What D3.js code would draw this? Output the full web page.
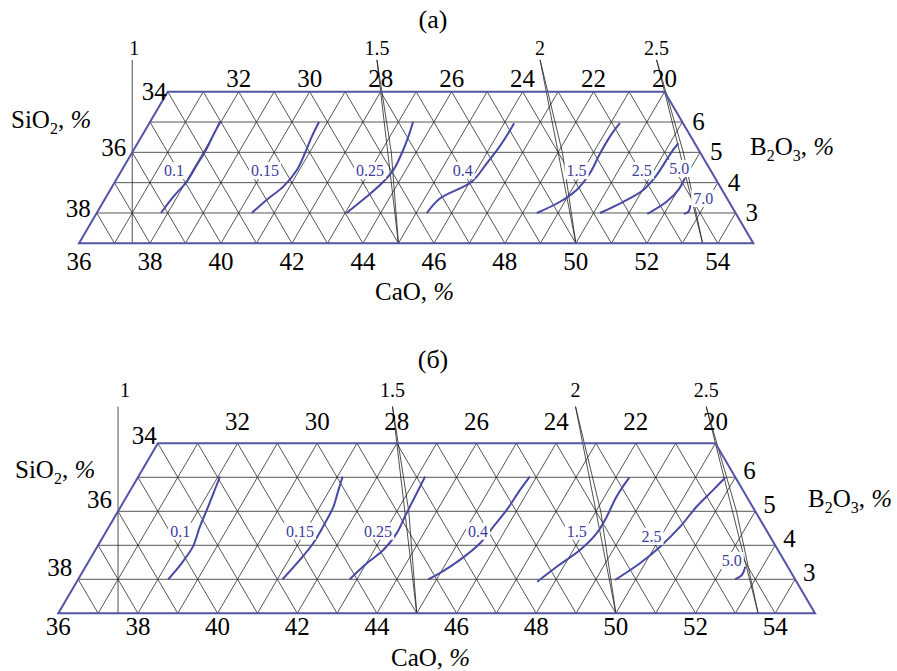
<!DOCTYPE html>
<html>
<head>
<meta charset="utf-8">
<script src="https://cdn.jsdelivr.net/npm/d3@7"></script>
<style>
  body { margin: 0; background: #fff; }
  svg { display: block; }
  text { font-family: "Liberation Serif", "DejaVu Serif", serif; }
  .grid { stroke: #2b2b2b; stroke-width: 0.8; fill: none; }
  .edge { stroke: #5454a6; stroke-width: 2; fill: none; }
  .curve { stroke: #4848a6; stroke-width: 2; fill: none; }
  .basic { stroke: #222; stroke-width: 0.8; fill: none; }
</style>
</head>
<body>
<script>
// CaO + SiO2 + B2O3 = 77 % (the rest of the slag is constant)
var TOTAL = 77;

// tick values
var caoTicks = [36, 38, 40, 42, 44, 46, 48, 50, 52, 54];
var sio2TopTicks = [32, 30, 28, 26, 24, 22, 20];
var sio2LeftTicks = [38, 36, 34];
var b2o3Ticks = [6, 5, 4, 3];

// CaO/SiO2 lines and the CaO shift of their second trace (at B2O3 = 5)
var basicity = [1, 1.5, 2, 2.5];
var basicityBend = [0, 0.1, 0.12, 0.1];

// iso-lines, panel (a); points are [CaO, B2O3]
var levelsA = ["0.1", "0.15", "0.25", "0.4", "1.5", "2.5", "5.0", "7.0"];
var curvesA = [
  [[37.81, 3.0], [37.89, 3.54], [38.02, 4.03], [38.03, 4.58], [38.04, 5.02], [38.0, 5.57], [37.97, 6.01]],
  [[40.37, 3.0], [40.57, 3.43], [40.82, 3.87], [40.93, 4.42], [40.88, 4.97], [40.8, 5.52], [40.76, 6.01]],
  [[43.04, 3.0], [43.34, 3.54], [43.56, 4.03], [43.65, 4.42], [43.61, 4.97], [43.52, 5.52], [43.41, 6.01]],
  [[45.3, 3.0], [45.43, 3.48], [46.05, 4.03], [46.17, 4.64], [46.25, 5.13], [46.28, 5.63], [46.28, 5.96]],
  [[48.4, 3.0], [48.87, 3.37], [49.14, 3.76], [49.24, 4.31], [49.2, 4.97], [49.2, 5.52], [49.26, 5.96]],
  [[50.18, 3.0], [50.65, 3.37], [51.02, 3.76], [51.15, 4.25], [51.18, 4.75], [51.2, 5.08], [51.24, 5.3]],
  [[51.53, 2.97], [51.87, 3.37], [52.01, 3.76], [52.0, 4.14]],
  [[52.56, 2.97], [52.65, 3.04], [52.6, 3.26]]
];
var labelAtA = [[37.49, 4.38], [40.05, 4.38], [43.01, 4.38], [45.62, 4.38], [48.83, 4.38], [50.67, 4.38], [51.69, 4.45], [52.86, 3.46]];

// iso-lines, panel (б)
var levelsB = ["0.1", "0.15", "0.25", "0.4", "1.5", "2.5", "5.0"];
var curvesB = [
  [[38.26, 3.0], [38.36, 3.47], [38.4, 3.96], [38.28, 4.55], [38.21, 5.04], [38.13, 5.53], [38.05, 6.02]],
  [[41.13, 3.0], [41.28, 3.57], [41.37, 4.06], [41.37, 4.65], [41.34, 5.14], [41.22, 5.63], [41.13, 6.02]],
  [[42.82, 3.0], [43.01, 3.47], [43.23, 3.86], [43.32, 4.35], [43.28, 4.84], [43.24, 5.43], [43.2, 6.02]],
  [[44.79, 3.0], [44.99, 3.18], [45.3, 3.57], [45.56, 4.06], [45.65, 4.55], [45.74, 5.04], [45.78, 5.63], [45.83, 6.02]],
  [[47.56, 2.93], [47.83, 3.37], [48.17, 3.86], [48.34, 4.35], [48.35, 4.84], [48.3, 5.43], [48.34, 5.99]],
  [[49.49, 2.98], [49.87, 3.47], [50.13, 3.96], [50.34, 4.55], [50.46, 5.14], [50.63, 5.63], [50.75, 5.99]],
  [[52.49, 3.0], [52.6, 3.13], [52.56, 3.37]]
];
var labelAtB = [[37.86, 4.4], [40.87, 4.4], [42.83, 4.4], [45.34, 4.4], [47.82, 4.4], [49.77, 4.25], [52.14, 3.54]];

var svg = d3.select("body").append("svg")
  .attr("width", 897)
  .attr("height", 671);

function drawPanel(p) {
  var g = svg.append("g");

  // CaO along the bottom edge, B2O3 upward; every B2O3 step shifts half a CaO step right
  var xC = d3.scaleLinear().domain([36, 55]).range([p.x0, p.x1]);
  var yB = d3.scaleLinear().domain([2, 7]).range([p.yBottom, p.yTop]);
  var px = function(c, b) { return xC(c + (b - 2) / 2); };
  var py = function(b) { return yB(b); };

  var seg = function(c1, b1, c2, b2, cls) {
    g.append("line").attr("class", cls)
      .attr("x1", px(c1, b1)).attr("y1", py(b1))
      .attr("x2", px(c2, b2)).attr("y2", py(b2));
  };

  // grid: constant B2O3, constant CaO, constant SiO2
  d3.range(3, 7).forEach(function(b) { seg(36, b, TOTAL - 20 - b, b, "grid"); });
  d3.range(37, 55).forEach(function(c) {
    var bTop = Math.min(7, TOTAL - 20 - c);
    seg(c, 2, c, bTop, "grid");
  });
  d3.range(21, 39).forEach(function(s) {
    var bTop = Math.min(7, TOTAL - 36 - s);
    seg(TOTAL - s - 2, 2, TOTAL - s - bTop, bTop, "grid");
  });

  // basicity lines CaO/SiO2 = r
  var line = d3.line().x(function(d) { return px(d[0], d[1]); }).y(function(d) { return py(d[1]); });
  var cAt = function(r, b) { return (TOTAL - b) * r / (1 + r); };
  basicity.forEach(function(r, i) {
    var top = [cAt(r, p.bLab), p.bLab], bottom = [cAt(r, 2), 2];
    g.append("path").attr("class", "basic").attr("d", line([top, bottom]));
    if (basicityBend[i] > 0) {
      g.append("path").attr("class", "basic")
        .attr("d", line([top, [cAt(r, 5) + basicityBend[i], 5], bottom]));
    }
    g.append("text")
      .attr("x", px(top[0], top[1]) + (i === 0 ? p.oneDx : 0))
      .attr("y", py(top[1]) + p.basicDy)
      .attr("text-anchor", "middle")
      .attr("font-size", 20)
      .text(r);
  });

  // outline
  var outline = [[36, 2], [36, 7], [TOTAL - 27, 7], [TOTAL - 22, 2]];
  g.append("path").attr("class", "edge").attr("d", line(outline) + "Z");

  // iso-lines
  var curve = d3.line().curve(d3.curveCatmullRom)
    .x(function(d) { return px(d[0], d[1]); }).y(function(d) { return py(d[1]); });
  p.curves.forEach(function(pts) {
    g.append("path").attr("class", "curve").attr("d", curve(pts));
  });
  p.levels.forEach(function(lv, i) {
    var at = p.labels[i];
    var t = g.append("text")
      .attr("x", px(at[0], at[1])).attr("y", py(at[1]) + 5)
      .attr("text-anchor", "middle")
      .attr("font-size", 16)
      .attr("fill", "#3d3d9e")
      .text(lv);
    var bb = t.node().getBBox();
    g.insert("rect", function() { return t.node(); })
      .attr("x", bb.x - 2).attr("y", bb.y).attr("width", bb.width + 4).attr("height", bb.height)
      .attr("fill", "#fff");
  });

  // tick labels
  caoTicks.forEach(function(c) {
    g.append("text").attr("x", px(c, 2)).attr("y", py(2) + p.bottomDy)
      .attr("text-anchor", "middle").attr("font-size", 25).text(c);
  });
  sio2TopTicks.forEach(function(s) {
    g.append("text").attr("x", px(TOTAL - 7 - s, 7)).attr("y", py(7) + p.topDy)
      .attr("text-anchor", "middle").attr("font-size", 25).text(s);
  });
  sio2LeftTicks.forEach(function(s) {
    var b = TOTAL - 36 - s;
    var corner = b === 7;
    g.append("text").attr("x", px(36, b) - (corner ? 1 : 6)).attr("y", py(b) + p.leftDy + (corner ? 4 : 0))
      .attr("text-anchor", "end").attr("font-size", 25).text(s);
  });
  b2o3Ticks.forEach(function(b) {
    g.append("text").attr("x", px(TOTAL - 20 - b, b) + p.rightDx).attr("y", py(b) + p.rightDy)
      .attr("font-size", 25).text(b);
  });

  // axis titles
  var title = function(x, y, parts) {
    var t = g.append("text").attr("x", x).attr("y", y).attr("font-size", 25);
    parts.forEach(function(q) {
      var s = t.append("tspan").text(q[0]);
      if (q[1] === "sub") s.attr("font-size", 16).attr("dy", 6);
      if (q[1] === "up") s.attr("dy", -6);
      if (q[2]) s.attr("font-style", "italic");
    });
  };
  title(p.sioX, p.sioY, [["SiO"], ["2", "sub"], [", ", "up"], ["%", "", 1]]);
  title(p.boX, p.boY, [["B"], ["2", "sub"], ["O", "up"], ["3", "sub"], [", ", "up"], ["%", "", 1]]);
  title(p.caoX, p.caoY, [["CaO, "], ["%", "", 1]]);

  g.append("text").attr("x", 433).attr("y", p.nameY)
    .attr("text-anchor", "middle").attr("font-size", 26).text(p.name);
}

drawPanel({
  name: "(а)", nameY: 28,
  x0: 79, x1: 753.3, yBottom: 243.3, yTop: 91.7,
  bLab: 8.05, basicDy: -5, oneDx: 2,
  bottomDy: 27, topDy: -5, leftDy: 4, rightDx: 10, rightDy: 8,
  sioX: 11, sioY: 128, boX: 750, boY: 155, caoX: 375, caoY: 300,
  levels: levelsA, curves: curvesA, labels: labelAtA
});

drawPanel({
  name: "(б)", nameY: 368,
  x0: 58.3, x1: 815, yBottom: 613.3, yTop: 443.3,
  bLab: 8.08, basicDy: -10, oneDx: 7,
  bottomDy: 22, topDy: -13, leftDy: -3, rightDx: 8, rightDy: 2,
  sioX: 15, sioY: 478, boX: 808, boY: 507, caoX: 391, caoY: 666,
  levels: levelsB, curves: curvesB, labels: labelAtB
});
</script>
</body>
</html>
